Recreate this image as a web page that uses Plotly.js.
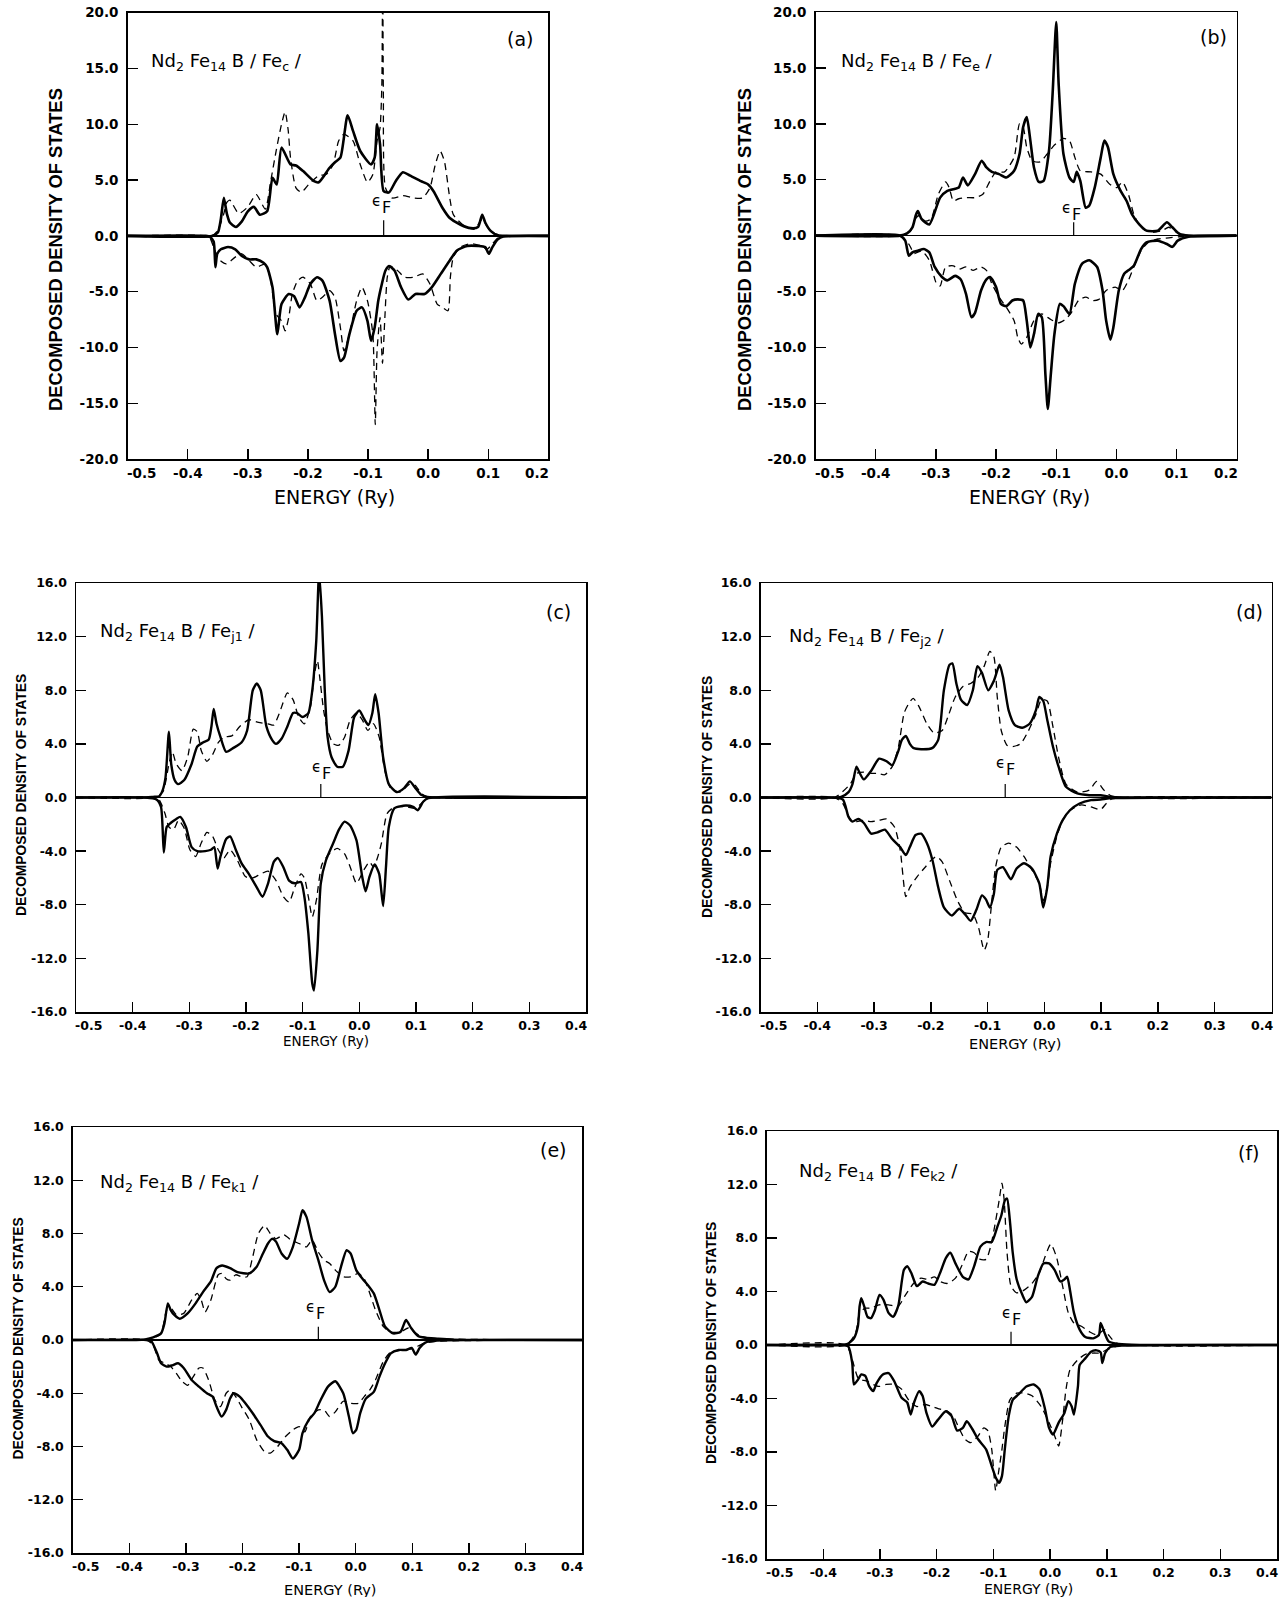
<!DOCTYPE html>
<html><head><meta charset="utf-8">
<script src="https://cdn.plot.ly/plotly-3.0.1.min.js"></script>
<style>html,body{margin:0;padding:0;background:#fff}</style>
</head><body><div id="chart" style="width:1279px;height:1597px"></div>
<script>
// ---------------- DATA (energy in Ry, decomposed DOS) ----------------
// Panel (a) Fe_c
const a_upSolidE=[-0.50,-0.36,-0.35,-0.345,-0.34,-0.335,-0.33,-0.32,-0.31,-0.30,-0.29,-0.28,-0.268,-0.259,-0.252,-0.244,-0.229,-0.22,-0.208,-0.19,-0.182,-0.164,-0.155,-0.146,-0.134,-0.125,-0.113,-0.095,-0.089,-0.085,-0.080,-0.074,-0.065,-0.054,-0.042,-0.030,-0.012,0.0,0.009,0.024,0.036,0.054,0.071,0.083,0.09,0.095,0.104,0.116,0.13,0.2];
const a_upSolidD=[0,0,0.3,1.5,3.4,2.0,1.2,0.8,1.3,2.2,2.6,1.9,2.2,5.2,4.6,7.9,6.4,6.3,5.8,4.9,4.8,6.1,6.6,7.0,10.8,9.4,7.6,6.4,7.0,10.0,8.2,4.0,3.9,4.9,5.7,5.4,4.9,4.6,4.0,2.5,1.6,1.0,0.7,0.8,1.9,1.2,0.45,0.05,0,0];
const a_upDashE=[-0.50,-0.36,-0.35,-0.34,-0.335,-0.33,-0.325,-0.315,-0.30,-0.286,-0.271,-0.262,-0.253,-0.244,-0.238,-0.233,-0.229,-0.22,-0.211,-0.199,-0.182,-0.170,-0.158,-0.149,-0.140,-0.125,-0.113,-0.101,-0.092,-0.085,-0.080,-0.077,-0.0756,-0.0745,-0.071,-0.06,-0.042,-0.024,-0.009,0.003,0.012,0.020,0.027,0.036,0.042,0.06,0.077,0.09,0.10,0.113,0.13,0.2];
const a_upDashD=[0,0,0.5,2.0,3.0,3.2,2.8,2.0,2.6,3.7,2.4,4.9,7.6,10.0,11.1,9.5,7.0,4.3,3.9,4.6,5.4,5.5,6.4,8.5,9.1,8.5,6.4,4.8,5.5,8.5,9.7,13.6,25,13,4.3,3.4,3.6,3.4,3.4,4.3,6.4,7.6,6.7,3.4,1.9,0.9,0.6,1.5,0.7,0.15,0,0];
const a_dnSolidE=[-0.50,-0.37,-0.363,-0.357,-0.354,-0.351,-0.345,-0.333,-0.321,-0.31,-0.298,-0.286,-0.274,-0.268,-0.259,-0.251,-0.244,-0.232,-0.223,-0.214,-0.205,-0.196,-0.185,-0.176,-0.164,-0.155,-0.146,-0.140,-0.131,-0.119,-0.110,-0.101,-0.095,-0.089,-0.083,-0.077,-0.071,-0.065,-0.056,-0.045,-0.033,-0.021,-0.006,0.006,0.021,0.036,0.048,0.065,0.083,0.095,0.101,0.107,0.116,0.125,0.2];
const a_dnSolidD=[0,0,-0.1,-0.5,-2.8,-1.6,-1.2,-1.0,-1.2,-1.8,-2.1,-2.1,-2.4,-2.8,-4.6,-8.8,-6.1,-5.2,-5.4,-6.4,-5.5,-4.3,-3.7,-4.0,-5.8,-8.8,-11.2,-10.9,-8.8,-6.7,-6.4,-7.6,-9.4,-8.2,-5.8,-4.3,-3.1,-2.7,-3.1,-4.6,-5.7,-5.2,-5.2,-4.6,-3.4,-2.2,-1.3,-0.9,-0.9,-1.0,-1.6,-1.0,-0.3,-0.06,0];
const a_dnDashE=[-0.50,-0.37,-0.363,-0.357,-0.348,-0.336,-0.321,-0.31,-0.298,-0.286,-0.271,-0.262,-0.253,-0.244,-0.238,-0.232,-0.226,-0.217,-0.208,-0.196,-0.185,-0.176,-0.164,-0.155,-0.146,-0.140,-0.131,-0.119,-0.110,-0.101,-0.092,-0.088,-0.085,-0.080,-0.076,-0.072,-0.068,-0.063,-0.051,-0.039,-0.024,-0.009,0.003,0.015,0.024,0.033,0.037,0.042,0.054,0.071,0.089,0.098,0.107,0.116,0.13,0.2];
const a_dnDashD=[0,0,-0.2,-1.0,-2.1,-2.5,-1.9,-1.6,-2.2,-2.8,-2.5,-4.0,-7.0,-7.6,-8.5,-7.3,-5.2,-4.0,-3.7,-4.3,-5.8,-5.5,-4.9,-5.5,-8.2,-10.3,-8.8,-5.8,-4.6,-5.8,-8.8,-16.9,-10.3,-7.3,-11.4,-7.3,-3.7,-2.7,-3.1,-3.7,-3.7,-3.4,-4.3,-6.1,-6.4,-6.7,-3.7,-1.9,-1.0,-0.7,-0.9,-1.2,-0.7,-0.2,0,0];

// Panel (b) Fe_e
const b_upSolidE=[-0.50,-0.36,-0.348,-0.339,-0.333,-0.33,-0.324,-0.311,-0.293,-0.281,-0.268,-0.262,-0.255,-0.247,-0.235,-0.224,-0.216,-0.207,-0.195,-0.183,-0.17,-0.161,-0.155,-0.149,-0.143,-0.137,-0.129,-0.121,-0.112,-0.106,-0.1,-0.096,-0.088,-0.078,-0.071,-0.066,-0.06,-0.051,-0.045,-0.036,-0.026,-0.02,-0.014,-0.005,0.007,0.017,0.026,0.038,0.05,0.069,0.084,0.093,0.105,0.12,0.2];
const b_upSolidD=[0,0,0.2,0.75,1.9,2.2,1.5,1.0,3.4,4.0,4.2,4.3,5.2,4.5,5.5,6.7,6.1,5.7,5.5,5.2,5.8,7.3,9.7,10.6,8.5,6.1,4.8,4.9,7.6,12.7,19.1,13.6,7.3,5.2,4.8,5.7,4.9,2.5,2.7,4.3,7.0,8.5,7.9,5.5,4.0,3.1,1.9,1.0,0.45,0.45,1.2,0.75,0.15,0,0];
const b_upDashE=[-0.50,-0.36,-0.342,-0.333,-0.327,-0.318,-0.308,-0.296,-0.284,-0.278,-0.271,-0.262,-0.25,-0.235,-0.222,-0.21,-0.2,-0.186,-0.17,-0.161,-0.155,-0.149,-0.14,-0.127,-0.115,-0.103,-0.088,-0.078,-0.069,-0.06,-0.042,-0.026,-0.011,0.001,0.01,0.02,0.029,0.041,0.056,0.076,0.087,0.1,0.112,0.2];
const b_upDashD=[0,0,0.45,1.6,1.8,1.3,1.5,3.7,4.8,4.3,3.1,3.3,3.4,3.4,3.7,4.9,5.7,5.7,7.0,10.0,9.7,7.9,6.7,6.6,7.3,8.1,8.7,8.5,7.0,5.8,5.7,5.5,4.6,4.3,4.8,3.7,1.9,0.75,0.3,0.45,0.75,0.3,0.05,0];
const b_dnSolidE=[-0.50,-0.36,-0.351,-0.345,-0.339,-0.33,-0.32,-0.311,-0.302,-0.29,-0.281,-0.268,-0.259,-0.25,-0.241,-0.235,-0.225,-0.216,-0.21,-0.2,-0.192,-0.183,-0.173,-0.164,-0.155,-0.149,-0.143,-0.137,-0.13,-0.124,-0.118,-0.114,-0.109,-0.103,-0.094,-0.088,-0.078,-0.069,-0.057,-0.045,-0.032,-0.023,-0.017,-0.01,-0.005,0.004,0.013,0.02,0.029,0.041,0.05,0.069,0.084,0.093,0.102,0.12,0.2];
const b_dnSolidD=[0,0,-0.45,-1.8,-1.5,-1.35,-1.2,-1.5,-2.8,-3.7,-4.0,-3.6,-3.9,-5.2,-7.3,-6.9,-4.9,-3.9,-3.7,-4.6,-6.1,-6.3,-5.8,-5.7,-5.8,-7.6,-10.0,-8.8,-7.0,-7.3,-12.4,-15.5,-12.4,-8.8,-6.1,-6.3,-7.0,-4.3,-2.5,-2.2,-2.8,-4.9,-7.6,-9.3,-8.2,-4.9,-3.4,-3.1,-2.7,-1.2,-0.6,-0.45,-0.75,-1.0,-0.45,-0.1,0];
const b_dnDashE=[-0.50,-0.36,-0.345,-0.336,-0.324,-0.311,-0.299,-0.293,-0.284,-0.271,-0.262,-0.25,-0.238,-0.225,-0.216,-0.207,-0.195,-0.183,-0.17,-0.164,-0.158,-0.149,-0.137,-0.124,-0.109,-0.097,-0.085,-0.075,-0.063,-0.051,-0.039,-0.029,-0.017,-0.002,0.01,0.02,0.029,0.041,0.053,0.069,0.087,0.105,0.2];
const b_dnDashD=[0,0,-0.75,-1.6,-1.35,-2.2,-4.3,-4.5,-2.8,-2.7,-3.0,-2.8,-3.1,-2.8,-3.1,-4.3,-5.5,-6.4,-7.6,-9.1,-9.7,-9.1,-7.6,-7.0,-7.5,-7.8,-7.5,-6.9,-5.8,-5.5,-5.8,-5.7,-4.9,-4.6,-4.9,-4.0,-2.8,-1.35,-0.6,-0.3,-0.2,-0.1,0];

// Panel (c) Fe_j1
const c_upSolidE=[-0.50,-0.377,-0.364,-0.353,-0.347,-0.342,-0.336,-0.332,-0.326,-0.32,-0.309,-0.296,-0.286,-0.276,-0.266,-0.261,-0.257,-0.252,-0.245,-0.235,-0.222,-0.208,-0.198,-0.188,-0.181,-0.174,-0.164,-0.154,-0.147,-0.137,-0.127,-0.117,-0.11,-0.1,-0.09,-0.083,-0.076,-0.071,-0.066,-0.061,-0.056,-0.049,-0.039,-0.029,-0.019,-0.009,0,0.008,0.016,0.023,0.028,0.034,0.042,0.052,0.066,0.079,0.089,0.099,0.109,0.12,0.4];
const c_upSolidD=[0,0,0.05,0.1,0.55,1.5,4.9,2.5,1.3,1.0,1.3,2.5,3.8,4.1,4.3,5.3,6.6,5.5,4.5,3.4,3.7,4.1,5.0,8.0,8.5,8.0,5.3,4.3,4.0,4.4,5.3,6.3,6.3,6.0,6.3,8.0,11.7,16.8,13.5,8.0,4.5,3.0,2.3,2.3,3.5,6.0,6.5,5.9,5.4,6.3,7.7,6.3,3.0,1.0,0.4,0.7,1.2,0.7,0.2,0.05,0];
const c_upDashE=[-0.50,-0.364,-0.347,-0.336,-0.33,-0.323,-0.313,-0.303,-0.293,-0.286,-0.279,-0.269,-0.259,-0.249,-0.239,-0.225,-0.211,-0.195,-0.178,-0.161,-0.151,-0.141,-0.127,-0.117,-0.107,-0.097,-0.086,-0.08,-0.074,-0.07,-0.063,-0.056,-0.046,-0.036,-0.026,-0.016,-0.005,0.005,0.015,0.025,0.035,0.045,0.055,0.072,0.089,0.099,0.109,0.12,0.4];
const c_upDashD=[0,0,0.4,2.5,3.4,2.5,2.0,3.0,5.1,4.9,3.5,2.7,3.2,4.1,4.5,4.6,5.3,5.8,5.6,5.5,5.4,6.3,7.8,7.3,6.0,5.5,6.8,9.0,10.2,9.0,6.5,5.0,4.0,3.9,4.5,5.8,6.3,5.8,5.0,5.5,4.5,2.0,0.7,0.4,1.0,0.9,0.3,0.05,0];
const c_dnSolidE=[-0.50,-0.377,-0.358,-0.35,-0.345,-0.34,-0.333,-0.323,-0.316,-0.306,-0.296,-0.286,-0.272,-0.262,-0.256,-0.25,-0.245,-0.235,-0.228,-0.218,-0.208,-0.195,-0.181,-0.171,-0.161,-0.151,-0.144,-0.134,-0.124,-0.114,-0.103,-0.097,-0.09,-0.083,-0.08,-0.074,-0.068,-0.059,-0.046,-0.036,-0.026,-0.016,-0.005,0.005,0.011,0.018,0.027,0.035,0.042,0.047,0.052,0.062,0.082,0.095,0.103,0.113,0.122,0.4];
const c_dnSolidD=[0,0,-0.15,-0.7,-4.1,-2.2,-1.9,-1.6,-1.45,-2.2,-3.7,-4.0,-4.0,-3.9,-3.7,-5.3,-4.4,-3.1,-2.9,-3.9,-4.9,-5.7,-6.7,-7.4,-6.4,-4.8,-4.5,-5.2,-6.2,-6.4,-6.3,-7.4,-10.1,-13.9,-14.4,-11.4,-6.4,-4.7,-3.4,-2.4,-1.8,-2.1,-3.2,-5.9,-7.0,-5.9,-5.0,-5.7,-8.1,-5.2,-2.2,-0.8,-0.6,-0.7,-0.95,-0.3,-0.05,0];
const c_dnDashE=[-0.50,-0.364,-0.353,-0.343,-0.336,-0.328,-0.319,-0.309,-0.299,-0.289,-0.279,-0.269,-0.259,-0.249,-0.239,-0.228,-0.215,-0.201,-0.188,-0.174,-0.161,-0.147,-0.134,-0.124,-0.114,-0.103,-0.097,-0.09,-0.083,-0.076,-0.066,-0.053,-0.039,-0.026,-0.016,-0.005,0.008,0.018,0.025,0.032,0.039,0.049,0.062,0.082,0.099,0.113,0.122,0.4];
const c_dnDashD=[0,0,-0.2,-1.2,-2.2,-2.4,-1.7,-2.3,-3.9,-4.4,-3.4,-2.6,-2.9,-3.9,-4.5,-3.9,-4.7,-5.9,-6.0,-5.7,-5.5,-6.2,-7.4,-7.8,-6.7,-5.7,-6.0,-7.4,-8.9,-7.7,-5.0,-4.2,-3.8,-4.2,-5.2,-6.4,-5.4,-4.8,-5.2,-4.5,-3.4,-1.2,-0.7,-0.7,-0.8,-0.3,-0.05,0];

// Panel (d) Fe_j2
const d_upSolidE=[-0.50,-0.392,-0.358,-0.345,-0.338,-0.331,-0.325,-0.318,-0.305,-0.291,-0.278,-0.268,-0.257,-0.251,-0.244,-0.237,-0.231,-0.217,-0.197,-0.187,-0.177,-0.167,-0.162,-0.155,-0.147,-0.136,-0.126,-0.118,-0.11,-0.099,-0.089,-0.079,-0.073,-0.063,-0.052,-0.039,-0.026,-0.015,-0.009,-0.002,0.005,0.015,0.025,0.038,0.058,0.079,0.099,0.119,0.4];
const d_upSolidD=[0,0,0.05,0.4,1.0,2.3,1.8,1.35,2.0,2.9,2.7,2.4,3.5,4.3,4.6,4.0,3.7,3.6,3.7,4.3,8.0,9.9,10.0,8.5,7.3,6.9,8.0,9.8,9.3,8.0,8.7,9.9,9.0,6.5,5.4,5.2,5.5,6.5,7.5,7.2,5.8,3.8,2.3,0.8,0.3,0.17,0.17,0.05,0];
const d_upDashE=[-0.50,-0.37,-0.342,-0.331,-0.318,-0.305,-0.294,-0.281,-0.268,-0.257,-0.247,-0.239,-0.231,-0.221,-0.207,-0.194,-0.18,-0.17,-0.157,-0.143,-0.13,-0.116,-0.106,-0.096,-0.089,-0.083,-0.076,-0.066,-0.056,-0.042,-0.029,-0.015,-0.005,0.005,0.015,0.025,0.038,0.058,0.079,0.092,0.105,0.119,0.4];
const d_upDashD=[0,0,1.0,1.8,1.9,1.8,1.8,1.7,2.3,3.8,6.3,7.0,7.4,6.8,5.5,4.8,5.0,6.0,7.5,8.3,8.5,9.0,9.8,10.9,10.5,7.5,5.0,3.9,3.8,4.0,4.9,6.2,7.3,7.2,5.3,3.0,1.0,0.4,0.55,1.2,0.55,0.1,0];
const d_dnSolidE=[-0.50,-0.38,-0.355,-0.345,-0.338,-0.328,-0.318,-0.305,-0.294,-0.281,-0.268,-0.254,-0.244,-0.237,-0.227,-0.217,-0.207,-0.197,-0.187,-0.177,-0.163,-0.15,-0.14,-0.13,-0.12,-0.11,-0.103,-0.096,-0.089,-0.083,-0.073,-0.059,-0.049,-0.036,-0.022,-0.009,-0.002,0.005,0.011,0.022,0.032,0.045,0.062,0.082,0.099,0.119,0.4];
const d_dnSolidD=[0,0,-0.15,-1.45,-1.8,-1.6,-1.9,-2.7,-2.6,-2.4,-3.1,-3.7,-4.3,-3.7,-2.8,-2.7,-3.4,-4.7,-6.7,-8.2,-8.8,-8.3,-8.7,-9.2,-8.4,-7.3,-7.6,-8.2,-7.2,-5.4,-5.2,-6.1,-5.3,-4.9,-5.3,-6.4,-8.2,-6.7,-4.4,-2.7,-1.7,-0.95,-0.45,-0.2,-0.15,-0.05,0];
const d_dnDashE=[-0.50,-0.37,-0.355,-0.342,-0.331,-0.318,-0.305,-0.291,-0.278,-0.264,-0.254,-0.244,-0.237,-0.224,-0.21,-0.2,-0.19,-0.18,-0.167,-0.153,-0.14,-0.126,-0.116,-0.106,-0.1,-0.093,-0.086,-0.076,-0.063,-0.049,-0.036,-0.022,-0.009,-0.002,0.005,0.011,0.022,0.032,0.045,0.065,0.082,0.099,0.109,0.119,0.4];
const d_dnDashD=[0,0,-0.45,-1.6,-1.8,-1.7,-1.8,-1.7,-1.6,-2.2,-3.9,-7.4,-6.7,-5.9,-5.2,-4.7,-4.4,-4.8,-6.2,-7.7,-8.6,-8.7,-9.7,-11.4,-10.7,-7.9,-5.2,-3.7,-3.4,-3.7,-4.4,-5.4,-6.4,-7.7,-6.7,-4.9,-2.9,-1.7,-0.95,-0.55,-0.7,-0.9,-0.45,-0.1,0];

// Panel (e) Fe_k1
const e_upSolidE=[-0.50,-0.388,-0.372,-0.358,-0.344,-0.338,-0.332,-0.327,-0.321,-0.311,-0.297,-0.283,-0.27,-0.256,-0.246,-0.236,-0.222,-0.209,-0.188,-0.175,-0.165,-0.155,-0.148,-0.141,-0.131,-0.121,-0.111,-0.1,-0.094,-0.087,-0.077,-0.066,-0.056,-0.046,-0.036,-0.026,-0.016,-0.009,0.001,0.012,0.022,0.032,0.042,0.052,0.066,0.079,0.089,0.098,0.11,0.123,0.144,0.171,0.4];
const e_upSolidD=[0,0,0.05,0.2,0.5,1.25,2.75,2.25,1.9,1.6,2.0,2.75,3.6,4.4,5.4,5.6,5.4,5.1,5.0,5.5,6.4,7.25,7.6,7.4,6.5,6.1,7.0,8.75,9.75,9.25,7.5,6.0,4.5,3.6,4.0,5.5,6.75,6.5,5.25,4.6,4.1,3.5,2.25,1.0,0.5,0.6,1.5,0.9,0.3,0.17,0.1,0.03,0];
const e_upDashE=[-0.50,-0.37,-0.358,-0.344,-0.334,-0.327,-0.317,-0.304,-0.29,-0.28,-0.273,-0.266,-0.256,-0.243,-0.236,-0.229,-0.222,-0.212,-0.202,-0.192,-0.182,-0.172,-0.161,-0.151,-0.141,-0.127,-0.114,-0.1,-0.087,-0.077,-0.066,-0.056,-0.046,-0.036,-0.022,-0.009,0.005,0.015,0.025,0.035,0.049,0.062,0.079,0.093,0.103,0.117,0.144,0.4];
const e_upDashD=[0,0,0.12,0.5,2.25,2.4,1.9,2.0,3.0,3.5,3.0,2.1,3.0,4.9,5.0,4.6,4.5,4.9,4.75,4.75,6.25,8.0,8.6,8.0,7.6,7.9,7.5,7.25,7.0,7.5,6.6,6.0,5.75,5.25,4.75,4.75,5.0,4.6,3.5,2.25,1.0,0.6,0.6,0.9,0.6,0.25,0.1,0];
const e_dnSolidE=[-0.50,-0.37,-0.361,-0.351,-0.344,-0.334,-0.324,-0.314,-0.304,-0.29,-0.277,-0.263,-0.253,-0.246,-0.237,-0.229,-0.222,-0.216,-0.205,-0.195,-0.182,-0.168,-0.155,-0.144,-0.131,-0.121,-0.111,-0.1,-0.094,-0.083,-0.073,-0.063,-0.049,-0.036,-0.022,-0.012,-0.005,0.001,0.008,0.018,0.032,0.042,0.052,0.062,0.076,0.089,0.099,0.106,0.113,0.123,0.144,0.4];
const e_dnSolidD=[0,0,-0.1,-1.0,-1.75,-2.0,-1.9,-1.75,-2.1,-3.0,-3.5,-4.0,-4.25,-5.0,-5.75,-5.25,-4.4,-4.0,-4.25,-4.75,-5.5,-6.4,-7.25,-7.6,-7.75,-8.25,-8.9,-8.25,-7.0,-6.0,-5.5,-4.6,-3.5,-3.1,-4.0,-5.75,-7.0,-6.75,-5.5,-4.4,-3.9,-2.75,-1.75,-1.0,-0.75,-0.75,-0.6,-1.1,-0.6,-0.2,-0.05,0];
const e_dnDashE=[-0.50,-0.37,-0.358,-0.348,-0.337,-0.327,-0.317,-0.307,-0.297,-0.287,-0.277,-0.27,-0.26,-0.249,-0.239,-0.229,-0.222,-0.212,-0.202,-0.188,-0.175,-0.161,-0.151,-0.138,-0.124,-0.111,-0.1,-0.09,-0.08,-0.066,-0.056,-0.046,-0.036,-0.022,-0.009,0.005,0.015,0.025,0.035,0.049,0.062,0.083,0.101,0.12,0.144,0.4];
const e_dnDashD=[0,0,-0.4,-1.5,-1.75,-2.0,-2.5,-3.1,-3.4,-2.75,-2.1,-2.1,-3.0,-4.5,-5.0,-4.0,-3.75,-4.25,-5.0,-6.0,-7.5,-8.4,-8.5,-8.0,-7.25,-6.75,-6.5,-6.9,-5.75,-5.25,-5.25,-5.75,-5.4,-4.6,-4.75,-4.75,-4.25,-3.75,-3.0,-1.6,-0.9,-0.75,-0.65,-0.25,-0.1,0];

// Panel (f) Fe_k2
const f_upSolidE=[-0.50,-0.37,-0.357,-0.346,-0.339,-0.336,-0.333,-0.328,-0.322,-0.316,-0.309,-0.301,-0.294,-0.285,-0.277,-0.268,-0.258,-0.252,-0.245,-0.235,-0.225,-0.215,-0.204,-0.194,-0.184,-0.176,-0.167,-0.154,-0.144,-0.134,-0.123,-0.113,-0.103,-0.093,-0.086,-0.08,-0.076,-0.071,-0.066,-0.059,-0.049,-0.042,-0.032,-0.022,-0.012,-0.002,0.008,0.018,0.025,0.03,0.035,0.042,0.052,0.062,0.076,0.086,0.089,0.096,0.103,0.117,0.144,0.4];
const f_upSolidD=[0,0,0.08,0.5,1.4,2.9,3.5,2.9,2.1,2.0,2.6,3.75,3.4,2.4,2.1,2.9,5.6,5.9,5.4,4.4,4.75,4.6,4.5,5.4,6.5,6.9,6.1,5.1,4.9,5.9,7.35,7.7,7.7,8.85,9.7,10.8,10.95,9.3,6.9,4.9,3.75,3.2,3.6,5.1,6.1,6.1,5.6,4.75,4.9,5.1,4.1,2.4,1.15,0.6,0.5,0.75,1.65,0.9,0.27,0.1,0.03,0];
const f_upDashE=[-0.50,-0.36,-0.343,-0.336,-0.326,-0.316,-0.302,-0.285,-0.268,-0.255,-0.241,-0.228,-0.215,-0.204,-0.194,-0.181,-0.167,-0.154,-0.144,-0.134,-0.123,-0.113,-0.105,-0.096,-0.09,-0.085,-0.081,-0.076,-0.069,-0.059,-0.046,-0.032,-0.019,-0.009,0.001,0.011,0.022,0.032,0.042,0.055,0.069,0.082,0.096,0.103,0.117,0.4];
const f_upDashD=[0,0,0.9,2.4,2.75,2.75,3.0,3.0,2.9,3.75,4.6,5.0,4.9,5.1,4.75,4.6,5.0,6.1,7.0,6.9,6.4,6.4,7.35,9.3,10.8,12.1,10.8,6.9,4.4,3.9,4.1,4.6,5.4,6.6,7.55,6.6,4.4,2.4,1.65,1.4,1.0,0.75,1.15,0.75,0.15,0];
const f_dnSolidE=[-0.50,-0.37,-0.356,-0.349,-0.346,-0.339,-0.333,-0.326,-0.319,-0.312,-0.306,-0.295,-0.285,-0.275,-0.262,-0.252,-0.246,-0.24,-0.231,-0.225,-0.218,-0.208,-0.198,-0.184,-0.174,-0.164,-0.154,-0.147,-0.137,-0.127,-0.113,-0.103,-0.096,-0.09,-0.085,-0.08,-0.073,-0.066,-0.056,-0.042,-0.029,-0.019,-0.009,-0.002,0.005,0.015,0.025,0.032,0.038,0.042,0.049,0.052,0.062,0.072,0.082,0.089,0.092,0.097,0.106,0.123,0.4];
const f_dnSolidD=[0,0,-0.1,-1.35,-2.95,-2.6,-2.2,-2.3,-3.1,-3.45,-2.85,-2.2,-2.1,-2.7,-3.95,-4.3,-5.2,-4.3,-3.45,-3.8,-5.1,-6.1,-5.6,-4.95,-5.3,-6.4,-6.2,-5.7,-6.3,-7.05,-7.8,-9.05,-9.9,-10.3,-9.8,-7.8,-5.3,-4.1,-3.7,-3.1,-2.95,-3.3,-4.8,-6.2,-6.7,-5.8,-5.1,-4.2,-4.6,-5.2,-3.1,-1.5,-1.0,-0.5,-0.4,-0.55,-1.35,-0.6,-0.15,-0.05,0];
const f_dnDashE=[-0.50,-0.36,-0.349,-0.339,-0.333,-0.323,-0.312,-0.302,-0.289,-0.275,-0.262,-0.248,-0.235,-0.221,-0.208,-0.194,-0.181,-0.171,-0.161,-0.15,-0.14,-0.127,-0.117,-0.11,-0.103,-0.096,-0.092,-0.085,-0.08,-0.071,-0.059,-0.046,-0.032,-0.016,-0.002,0.008,0.015,0.022,0.028,0.035,0.049,0.062,0.076,0.089,0.1,0.117,0.4];
const f_dnDashD=[0,0,-1.1,-2.45,-2.6,-2.7,-2.95,-3.1,-2.95,-2.95,-3.3,-4.2,-4.6,-4.45,-4.6,-4.8,-4.95,-5.3,-6.2,-7.05,-7.3,-6.8,-6.2,-6.4,-7.8,-10.9,-9.8,-7.8,-6.1,-4.1,-3.6,-3.6,-3.8,-4.6,-5.8,-6.8,-7.55,-5.6,-3.3,-1.85,-1.1,-0.7,-0.6,-0.6,-0.35,-0.1,0];

// Fermi level per panel and marker height
const fermiE=[-0.074,-0.071,-0.068,-0.069,-0.066,-0.069];
const fermiMark=[1.4,1.2,1.0,1.0,1.0,1.0];
const panelLetters=['(a)','(b)','(c)','(d)','(e)','(f)'];
const siteSubs=['c','e','j1','j2','k1','k2'];
const yTicksAB=[-20,-15,-10,-5,0,5,10,15,20];
const yTicksCF=[-16,-12,-8,-4,0,4,8,12,16];
const xTicksAB=[-0.5,-0.4,-0.3,-0.2,-0.1,0.0,0.1,0.2];
const xTicksCF=[-0.5,-0.4,-0.3,-0.2,-0.1,0.0,0.1,0.2,0.3,0.4];
const yTitle='DECOMPOSED DENSITY OF STATES';
const xTitle='ENERGY (Ry)';

// ---------------- LAYOUT (pixel geometry) ----------------
const W=1279,H=1597;
const curves=[
 [a_upSolidE,a_upSolidD,a_upDashE,a_upDashD,a_dnSolidE,a_dnSolidD,a_dnDashE,a_dnDashD],
 [b_upSolidE,b_upSolidD,b_upDashE,b_upDashD,b_dnSolidE,b_dnSolidD,b_dnDashE,b_dnDashD],
 [c_upSolidE,c_upSolidD,c_upDashE,c_upDashD,c_dnSolidE,c_dnSolidD,c_dnDashE,c_dnDashD],
 [d_upSolidE,d_upSolidD,d_upDashE,d_upDashD,d_dnSolidE,d_dnSolidD,d_dnDashE,d_dnDashD],
 [e_upSolidE,e_upSolidD,e_upDashE,e_upDashD,e_dnSolidE,e_dnSolidD,e_dnDashE,e_dnDashD],
 [f_upSolidE,f_upSolidD,f_upDashE,f_upDashD,f_dnSolidE,f_dnSolidD,f_dnDashE,f_dnDashD]
];
// plot boxes: [left, right, top, bottom] in px
const boxes=[[127.7,548.3,12.5,459.3],[815.6,1236.7,12,459.3],[76,586,583,1012],[760.5,1271.5,583,1012],[72.8,582,1127,1553],[766.6,1277,1131,1559]];
const big=[true,true,false,false,false,false];
const letterPos=[[519.6,39],[1213,37],[558.7,612],[1249,612],[553,1150],[1249,1153]];
const labelPos=[[149,62],[838.5,62],[97.5,632],[787,637],[97.5,1183],[796.5,1172]];
const efPos=[[381,205],[1071,212],[321,771],[1005,767],[315,1311],[1011,1317]];
const yTitlePos=[[55,250],[744,250],[22,795],[707,797],[17.5,1339],[711,1343]];
const xTitlePos=[[334.7,497],[1029.5,497],[326,1041],[1015,1044],[330,1590],[1028.5,1589]];
const xTitleSize=[19,19,13.5,14.5,14.5,14];

const px=x=>x/W, py=y=>1-y/H;
const traces=[]; const layout={width:W,height:H,margin:{l:0,r:0,t:0,b:0},showlegend:false,
  paper_bgcolor:'#fff',plot_bgcolor:'rgba(0,0,0,0)',annotations:[]};
const fmt=v=>v.toFixed(1);

for(let i=0;i<6;i++){
  const s=i===0?'':String(i+1);
  const [l,r,t,b]=boxes[i];
  const xt=big[i]?xTicksAB:xTicksCF, yt=big[i]?yTicksAB:yTicksCF;
  const tickFont={family:'DejaVu Sans, sans-serif',size:big[i]?13.5:12.5,weight:'bold',color:'#000'};
  // end labels of the x axis are aligned to the frame edges (drawn as annotations below)
  const xtext=xt.map((v,k)=>(k===0||k===xt.length-1)?'':fmt(v));
  layout['xaxis'+s]={domain:[px(l),px(r)],range:[xt[0],xt[xt.length-1]],anchor:'y'+s,
    tickvals:xt,ticktext:xtext,ticks:'inside',ticklen:10,tickwidth:1.4,tickcolor:'#000',
    showline:true,linecolor:'#000',linewidth:1.5,mirror:true,showgrid:false,zeroline:false,
    tickfont:tickFont,ticklabelstandoff:1,fixedrange:true};
  layout['yaxis'+s]={domain:[py(b),py(t)],range:[yt[0],yt[yt.length-1]],anchor:'x'+s,
    tickvals:yt,ticktext:yt.map(fmt),ticks:'inside',ticklen:10,tickwidth:1.4,tickcolor:'#000',
    showline:true,linecolor:'#000',linewidth:1.5,mirror:true,showgrid:false,
    zeroline:true,zerolinecolor:'#000',zerolinewidth:1.6,
    tickfont:tickFont,ticklabelstandoff:5,fixedrange:true};
  const c=curves[i];
  const solid={color:'#000',width:big[i]?2.6:2.4,shape:'spline',smoothing:0.6};
  const dash={color:'#000',width:1.3,dash:'7px,5px',shape:'spline',smoothing:0.6};
  const ax={xaxis:'x'+s,yaxis:'y'+s,mode:'lines',hoverinfo:'skip',cliponaxis:true};
  traces.push(Object.assign({x:c[2],y:c[3],line:dash},ax));
  traces.push(Object.assign({x:c[6],y:c[7],line:dash},ax));
  traces.push(Object.assign({x:c[0],y:c[1],line:solid},ax));
  traces.push(Object.assign({x:c[4],y:c[5],line:solid},ax));
  traces.push(Object.assign({x:[fermiE[i],fermiE[i]],y:[0,fermiMark[i]],line:{color:'#000',width:1.2}},ax));

  const A=layout.annotations;
  const normal=(sz)=>({family:'DejaVu Sans, sans-serif',size:sz,color:'#000'});
  const ann=(x,y,text,font,extra)=>A.push(Object.assign({xref:'paper',yref:'paper',x:px(x),y:py(y),text:text,
    showarrow:false,xanchor:'center',yanchor:'middle',font:font},extra||{}));
  // x-axis end tick labels
  A.push({xref:'x'+s,yref:'paper',x:xt[0],y:py(b+4),text:fmt(xt[0]),showarrow:false,
    xanchor:'left',yanchor:'top',font:tickFont,xshift:-3});
  A.push({xref:'x'+s,yref:'paper',x:xt[xt.length-1],y:py(b+4),text:fmt(xt[xt.length-1]),showarrow:false,
    xanchor:'right',yanchor:'top',font:tickFont,xshift:3});
  ann(letterPos[i][0],letterPos[i][1],panelLetters[i],normal(19));
  ann(labelPos[i][0],labelPos[i][1],'Nd<sub>2</sub> Fe<sub>14</sub> B / Fe<sub>'+siteSubs[i]+'</sub> /',normal(18),{xanchor:'left'});
  ann(efPos[i][0]-5,efPos[i][1]-4,'ϵ',normal(15));
  ann(efPos[i][0]+5,efPos[i][1]+2.5,'F',normal(16));
  ann(yTitlePos[i][0],yTitlePos[i][1],yTitle,
    {family:'Liberation Sans, Arial, sans-serif',size:big[i]?18.4:13.8,weight:'bold',color:'#000'},{textangle:-90});
  ann(xTitlePos[i][0],xTitlePos[i][1],xTitle,normal(xTitleSize[i]));
}
Plotly.newPlot('chart',traces,layout,{staticPlot:true,displayModeBar:false});
</script></body></html>
